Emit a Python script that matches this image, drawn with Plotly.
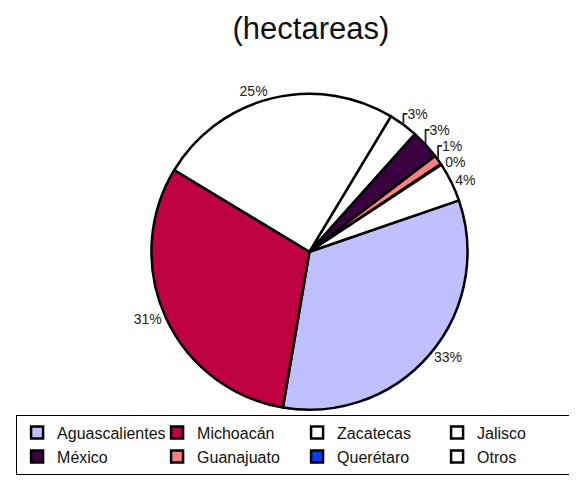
import plotly.graph_objects as go

states = ["Aguascalientes", "Michoacán", "Zacatecas", "Jalisco",
          "México", "Guanajuato", "Querétaro", "Otros"]
hectareas_pct = [33, 31, 25, 3, 3, 1, 0.1, 4]
colors = ["#C0C0FF", "#BF0041", "#FFFFFF", "#FFFFFF",
          "#3A0040", "#FF8080", "#0040FF", "#FFFFFF"]

fig = go.Figure(go.Pie(
    labels=states,
    values=hectareas_pct,
    sort=False,
    direction="clockwise",
    rotation=71,
    marker=dict(colors=colors, line=dict(color="black", width=2.5)),
    texttemplate="%{percent:.0%}",
    textposition="outside",
    textfont=dict(family="Liberation Sans, Arial", size=14, color="#222222"),
    hoverinfo="label+percent",
    domain=dict(x=[0.175, 0.87], y=[0.18, 0.825]),
))

fig.update_layout(
    width=577, height=490,
    margin=dict(l=0, r=0, t=0, b=0),
    paper_bgcolor="white",
    plot_bgcolor="white",
    title=dict(text="(hectareas)", x=0.525, xanchor="center", y=0.958, yanchor="middle",
               font=dict(family="Liberation Sans, Arial", size=31, color="#111111")),
    legend=dict(
        orientation="h",
        x=0.014, xanchor="left",
        y=0.17, yanchor="top",
        bordercolor="black", borderwidth=1,
        entrywidth=95, entrywidthmode="pixels",
        font=dict(family="Liberation Sans, Arial", size=16, color="#111111"),
        traceorder="normal",
        itemwidth=30,
    ),
)

fig.write_html("out.html")
